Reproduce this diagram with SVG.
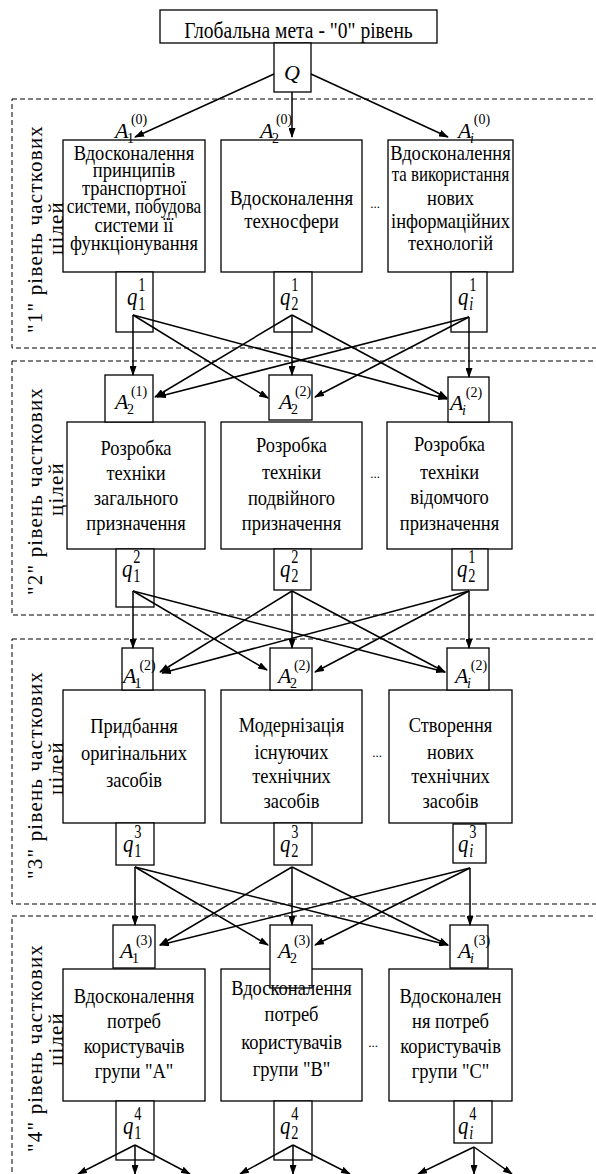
<svg xmlns="http://www.w3.org/2000/svg" width="596" height="1174" viewBox="0 0 596 1174">
<style>
.bg{fill:#fff}
.box{fill:#fff;stroke:#000;stroke-width:1.3}
.lvl{fill:none;stroke:#000;stroke-width:1;stroke-dasharray:5 3}
.t{font-family:"Liberation Serif","Times New Roman","DejaVu Serif",serif;font-size:22px;text-anchor:middle;fill:#000}
.tt{font-family:"Liberation Serif","Times New Roman","DejaVu Serif",serif;font-size:23px;text-anchor:middle;fill:#000}
.side{font-family:"Liberation Serif","Times New Roman","DejaVu Serif",serif;font-size:21px;text-anchor:middle;letter-spacing:1.2px;fill:#000}
.mi{font-family:"Liberation Serif","Times New Roman","DejaVu Serif",serif;font-size:22px;font-style:italic;fill:#000}
.ms{font-size:14px;font-style:normal}
.msi{font-size:14px;font-style:italic}
.qi{font-family:"Liberation Serif","Times New Roman","DejaVu Serif",serif;font-size:26px;font-style:italic;fill:#000}
.qd{font-size:18px;font-style:normal}
.qdi{font-size:18px;font-style:italic}
.dots{font-family:"Liberation Serif","Times New Roman","DejaVu Serif",serif;font-size:13px;text-anchor:middle;fill:#000}
.c{stroke:#000;stroke-width:1.5;fill:none;marker-end:url(#ah)}
</style>
<defs>
<marker id="ah" viewBox="0 0 10 7" refX="9" refY="3.5" markerWidth="10" markerHeight="7" markerUnits="userSpaceOnUse" orient="auto"><path d="M0,0L10,3.5L0,7z" fill="#000"/></marker>
</defs>
<rect class="bg" x="0" y="0" width="596" height="1174"/>

<g id="levels">
<rect class="lvl" x="12" y="99" width="600" height="249"/>
<rect class="lvl" x="12" y="361" width="600" height="254"/>
<rect class="lvl" x="12" y="639" width="600" height="265"/>
<rect class="lvl" x="12" y="916" width="600" height="300"/>
<text class="side" transform="translate(42,229) rotate(-90)">"1" рівень часткових</text>
<text class="side" transform="translate(63,228) rotate(-90)">цілей</text>
<text class="side" transform="translate(42,491) rotate(-90)">"2" рівень часткових</text>
<text class="side" transform="translate(63,489) rotate(-90)">цілей</text>
<text class="side" transform="translate(42,775) rotate(-90)">"3" рівень часткових</text>
<text class="side" transform="translate(63,768) rotate(-90)">цілей</text>
<text class="side" transform="translate(42,1048) rotate(-90)">"4" рівень часткових</text>
<text class="side" transform="translate(63,1039) rotate(-90)">цілей</text>
</g>

<!-- Level 0 -->
<g id="n0">
<rect class="box" x="160" y="10" width="277" height="33"/>
<g transform="translate(298.5,0) scale(0.85,1)"><text class="tt" x="0" y="38">Глобальна мета - "0" рівень</text></g>
</g>
<g id="nQ">
<rect class="box" x="274" y="43" width="37" height="49"/>
<text class="mi" x="292" y="80" text-anchor="middle">Q</text>
</g>

<!-- Level 1 -->
<g id="n1a">
<rect class="box" x="63" y="140" width="142" height="132"/>
<g transform="translate(134,0) scale(0.84,1)">
<text class="t" x="0" y="160">Вдосконалення</text>
<text class="t" x="0" y="177">принципів</text>
<text class="t" x="0" y="195">транспортної</text>
<text class="t" x="0" y="213" textLength="160" lengthAdjust="spacingAndGlyphs">системи, побудова</text>
<text class="t" x="0" y="232">системи її</text>
<text class="t" x="0" y="250">функціонування</text>
</g>
<text class="mi" x="115" y="138">A<tspan class="ms" dx="-1.5" dy="5">1</tspan><tspan class="ms" dx="-3" dy="-19">(0)</tspan></text>
<rect class="box" x="116" y="272" width="37" height="60"/>
<g transform="translate(127,0) scale(0.8,1)"><text class="qi" x="0" y="305">q<tspan class="qd" dx="1" dy="5">1</tspan><tspan class="qd" dx="-9" dy="-19">1</tspan></text></g>
</g>
<g id="n1b">
<rect class="box" x="221" y="140" width="141" height="132"/>
<g transform="translate(291.5,0) scale(0.86,1)">
<text class="t" x="0" y="205">Вдосконалення</text>
<text class="t" x="0" y="228">техносфери</text>
</g>
<text class="mi" x="260" y="138">A<tspan class="ms" dx="-1.5" dy="5">2</tspan><tspan class="ms" dx="-3" dy="-19">(0)</tspan></text>
<rect class="box" x="274" y="272" width="38" height="60"/>
<g transform="translate(280,0) scale(0.8,1)"><text class="qi" x="0" y="305">q<tspan class="qd" dx="1" dy="5">2</tspan><tspan class="qd" dx="-9" dy="-19">1</tspan></text></g>
</g>
<text class="dots" x="375" y="208">...</text>
<g id="n1c">
<rect class="box" x="388" y="140" width="125" height="132"/>
<g transform="translate(450.5,0) scale(0.84,1)">
<text class="t" x="0" y="160">Вдосконалення</text>
<text class="t" x="0" y="181" textLength="140" lengthAdjust="spacingAndGlyphs">та використання</text>
<text class="t" x="0" y="205">нових</text>
<text class="t" x="0" y="228">інформаційних</text>
<text class="t" x="0" y="250">технологій</text>
</g>
<text class="mi" x="458" y="138">A<tspan class="msi" dx="-1.5" dy="5">i</tspan><tspan class="ms" dx="0" dy="-19">(0)</tspan></text>
<rect class="box" x="451" y="272" width="36" height="60"/>
<g transform="translate(458,0) scale(0.8,1)"><text class="qi" x="0" y="305">q<tspan class="qdi" dx="1" dy="5">i</tspan><tspan class="qd" dx="-5" dy="-19">1</tspan></text></g>
</g>

<!-- Level 2 -->
<g id="n2a">
<rect class="box" x="67" y="422" width="138" height="127"/>
<g transform="translate(136,0) scale(0.84,1)">
<text class="t" x="0" y="455">Розробка</text>
<text class="t" x="0" y="480">техніки</text>
<text class="t" x="0" y="505">загального</text>
<text class="t" x="0" y="530">призначення</text>
</g>
<rect class="box" x="105" y="375" width="48" height="47"/>
<text class="mi" x="115" y="409">A<tspan class="ms" dx="-1.5" dy="5">2</tspan><tspan class="ms" dx="-3" dy="-18">(1)</tspan></text>
<rect class="box" x="116" y="549" width="38" height="58"/>
<g transform="translate(122,0) scale(0.8,1)"><text class="qi" x="0" y="577">q<tspan class="qd" dx="1" dy="5">1</tspan><tspan class="qd" dx="-9" dy="-19">2</tspan></text></g>
</g>
<g id="n2b">
<rect class="box" x="221" y="422" width="141" height="127"/>
<g transform="translate(291.5,0) scale(0.84,1)">
<text class="t" x="0" y="452">Розробка</text>
<text class="t" x="0" y="479">техніки</text>
<text class="t" x="0" y="505">подвійного</text>
<text class="t" x="0" y="530">призначення</text>
</g>
<rect class="box" x="269" y="375" width="43" height="45"/>
<text class="mi" x="279" y="409">A<tspan class="ms" dx="-1.5" dy="5">2</tspan><tspan class="ms" dx="-3" dy="-18">(2)</tspan></text>
<rect class="box" x="274" y="549" width="37" height="41"/>
<g transform="translate(280,0) scale(0.8,1)"><text class="qi" x="0" y="577">q<tspan class="qd" dx="1" dy="5">2</tspan><tspan class="qd" dx="-9" dy="-19">2</tspan></text></g>
</g>
<text class="dots" x="375" y="478">...</text>
<g id="n2c">
<rect class="box" x="387" y="422" width="125" height="127"/>
<g transform="translate(449.5,0) scale(0.84,1)">
<text class="t" x="0" y="451">Розробка</text>
<text class="t" x="0" y="479">техніки</text>
<text class="t" x="0" y="504">відомчого</text>
<text class="t" x="0" y="530">призначення</text>
</g>
<rect class="box" x="448" y="377" width="41" height="45"/>
<text class="mi" x="450" y="410">A<tspan class="msi" dx="-1.5" dy="5">i</tspan><tspan class="ms" dx="0" dy="-18">(2)</tspan></text>
<rect class="box" x="452" y="549" width="36" height="41"/>
<g transform="translate(457,0) scale(0.8,1)"><text class="qi" x="0" y="577">q<tspan class="qd" dx="1" dy="5">2</tspan><tspan class="qd" dx="-9" dy="-19">1</tspan></text></g>
</g>

<!-- Level 3 -->
<g id="n3a">
<rect class="box" x="63" y="690" width="142" height="133"/>
<g transform="translate(134,0) scale(0.84,1)">
<text class="t" x="0" y="733">Придбання</text>
<text class="t" x="0" y="760">оригінальних</text>
<text class="t" x="0" y="787">засобів</text>
</g>
<rect class="box" x="122" y="648" width="31" height="42"/>
<text class="mi" x="123" y="683">A<tspan class="ms" dx="-2" dy="5">1</tspan><tspan class="ms" dx="-2" dy="-18">(2)</tspan></text>
<rect class="box" x="116" y="823" width="38" height="42"/>
<g transform="translate(123,0) scale(0.8,1)"><text class="qi" x="0" y="852">q<tspan class="qd" dx="1" dy="5">1</tspan><tspan class="qd" dx="-9" dy="-19">3</tspan></text></g>
</g>
<g id="n3b">
<rect class="box" x="221" y="690" width="141" height="133"/>
<g transform="translate(291.5,0) scale(0.84,1)">
<text class="t" x="0" y="732">Модернізація</text>
<text class="t" x="0" y="759">існуючих</text>
<text class="t" x="0" y="783">технічних</text>
<text class="t" x="0" y="808">засобів</text>
</g>
<rect class="box" x="270" y="648" width="42" height="42"/>
<text class="mi" x="278" y="683">A<tspan class="ms" dx="-1.5" dy="5">2</tspan><tspan class="ms" dx="-3" dy="-18">(2)</tspan></text>
<rect class="box" x="274" y="823" width="38" height="42"/>
<g transform="translate(280,0) scale(0.8,1)"><text class="qi" x="0" y="852">q<tspan class="qd" dx="1" dy="5">2</tspan><tspan class="qd" dx="-9" dy="-19">3</tspan></text></g>
</g>
<text class="dots" x="377" y="757">...</text>
<g id="n3c">
<rect class="box" x="389" y="690" width="123" height="133"/>
<g transform="translate(450.5,0) scale(0.84,1)">
<text class="t" x="0" y="732">Створення</text>
<text class="t" x="0" y="759">нових</text>
<text class="t" x="0" y="783">технічних</text>
<text class="t" x="0" y="808">засобів</text>
</g>
<rect class="box" x="447" y="648" width="42" height="42"/>
<text class="mi" x="455" y="683">A<tspan class="msi" dx="-1.5" dy="5">i</tspan><tspan class="ms" dx="0" dy="-18">(2)</tspan></text>
<rect class="box" x="453" y="824" width="33" height="39"/>
<g transform="translate(458,0) scale(0.8,1)"><text class="qi" x="0" y="852">q<tspan class="qdi" dx="1" dy="5">i</tspan><tspan class="qd" dx="-5" dy="-19">3</tspan></text></g>
</g>

<!-- Level 4 -->
<g id="n4a">
<rect class="box" x="63" y="969" width="142" height="132"/>
<rect class="box" x="113" y="925" width="42" height="43"/>
<g transform="translate(134,0) scale(0.84,1)">
<text class="t" x="0" y="1003">Вдосконалення</text>
<text class="t" x="0" y="1028">потреб</text>
<text class="t" x="0" y="1053">користувачів</text>
<text class="t" x="0" y="1078">групи "A"</text>
</g>
<text class="mi" x="120" y="958">A<tspan class="ms" dx="-1.5" dy="5">1</tspan><tspan class="ms" dx="-3" dy="-18">(3)</tspan></text>
<rect class="box" x="116" y="1101" width="38" height="59"/>
<g transform="translate(123,0) scale(0.8,1)"><text class="qi" x="0" y="1134">q<tspan class="qd" dx="1" dy="5">1</tspan><tspan class="qd" dx="-9" dy="-19">4</tspan></text></g>
</g>
<g id="n4b">
<rect class="box" x="221" y="969" width="141" height="132"/>
<rect class="box" x="270" y="925" width="42" height="63"/>
<g transform="translate(291.5,0) scale(0.84,1)">
<text class="t" x="0" y="995">Вдосконалення</text>
<text class="t" x="0" y="1021">потреб</text>
<text class="t" x="0" y="1049">користувачів</text>
<text class="t" x="0" y="1076">групи "B"</text>
</g>
<text class="mi" x="278" y="958">A<tspan class="ms" dx="-1.5" dy="5">2</tspan><tspan class="ms" dx="-3" dy="-18">(3)</tspan></text>
<rect class="box" x="274" y="1101" width="38" height="59"/>
<g transform="translate(280,0) scale(0.8,1)"><text class="qi" x="0" y="1134">q<tspan class="qd" dx="1" dy="5">2</tspan><tspan class="qd" dx="-9" dy="-19">4</tspan></text></g>
</g>
<text class="dots" x="373" y="1047">...</text>
<g id="n4c">
<rect class="box" x="389" y="969" width="123" height="132"/>
<rect class="box" x="450" y="925" width="38" height="43"/>
<g transform="translate(450.5,0) scale(0.84,1)">
<text class="t" x="0" y="1003">Вдосконален</text>
<text class="t" x="0" y="1028">ня потреб</text>
<text class="t" x="0" y="1053">користувачів</text>
<text class="t" x="0" y="1078">групи "C"</text>
</g>
<text class="mi" x="458" y="958">A<tspan class="msi" dx="-1.5" dy="5">i</tspan><tspan class="ms" dx="0" dy="-18">(3)</tspan></text>
<rect class="box" x="454" y="1101" width="38" height="42"/>
<g transform="translate(458,0) scale(0.8,1)"><text class="qi" x="0" y="1134">q<tspan class="qdi" dx="1" dy="5">i</tspan><tspan class="qd" dx="-5" dy="-19">4</tspan></text></g>
</g>

<g id="connectors">
<line class="c" x1="274" y1="74" x2="135" y2="137"/>
<line class="c" x1="292" y1="92" x2="292" y2="137"/>
<line class="c" x1="311" y1="74" x2="448" y2="137"/>

<line class="c" x1="133" y1="315" x2="133" y2="375"/>
<line class="c" x1="133" y1="315" x2="268" y2="398"/>
<line class="c" x1="133" y1="315" x2="447" y2="399"/>
<line class="c" x1="292" y1="315" x2="155" y2="397"/>
<line class="c" x1="292" y1="315" x2="292" y2="375"/>
<line class="c" x1="292" y1="315" x2="447" y2="398"/>
<line class="c" x1="469" y1="317" x2="157" y2="397"/>
<line class="c" x1="469" y1="317" x2="315" y2="397"/>
<line class="c" x1="469" y1="317" x2="469" y2="377"/>

<line class="c" x1="133" y1="591" x2="133" y2="648"/>
<line class="c" x1="133" y1="591" x2="267" y2="670"/>
<line class="c" x1="133" y1="591" x2="445" y2="672"/>
<line class="c" x1="292" y1="591" x2="160" y2="672"/>
<line class="c" x1="292" y1="591" x2="292" y2="648"/>
<line class="c" x1="292" y1="591" x2="445" y2="672"/>
<line class="c" x1="469" y1="591" x2="162" y2="673"/>
<line class="c" x1="469" y1="591" x2="315" y2="672"/>
<line class="c" x1="469" y1="591" x2="469" y2="648"/>

<line class="c" x1="135" y1="867" x2="135" y2="925"/>
<line class="c" x1="135" y1="867" x2="268" y2="945"/>
<line class="c" x1="135" y1="867" x2="448" y2="945"/>
<line class="c" x1="292" y1="867" x2="160" y2="945"/>
<line class="c" x1="292" y1="867" x2="292" y2="925"/>
<line class="c" x1="292" y1="867" x2="448" y2="945"/>
<line class="c" x1="470" y1="868" x2="160" y2="945"/>
<line class="c" x1="470" y1="868" x2="315" y2="945"/>
<line class="c" x1="470" y1="868" x2="470" y2="925"/>

<line class="c" x1="135" y1="1145" x2="78" y2="1174"/>
<line class="c" x1="135" y1="1145" x2="135" y2="1174"/>
<line class="c" x1="135" y1="1145" x2="190" y2="1174"/>
<line class="c" x1="293" y1="1145" x2="240" y2="1174"/>
<line class="c" x1="293" y1="1145" x2="293" y2="1174"/>
<line class="c" x1="293" y1="1145" x2="350" y2="1174"/>
<line class="c" x1="474" y1="1147" x2="418" y2="1174"/>
<line class="c" x1="474" y1="1147" x2="474" y2="1174"/>
<line class="c" x1="474" y1="1147" x2="512" y2="1174"/>
</g>
</svg>
